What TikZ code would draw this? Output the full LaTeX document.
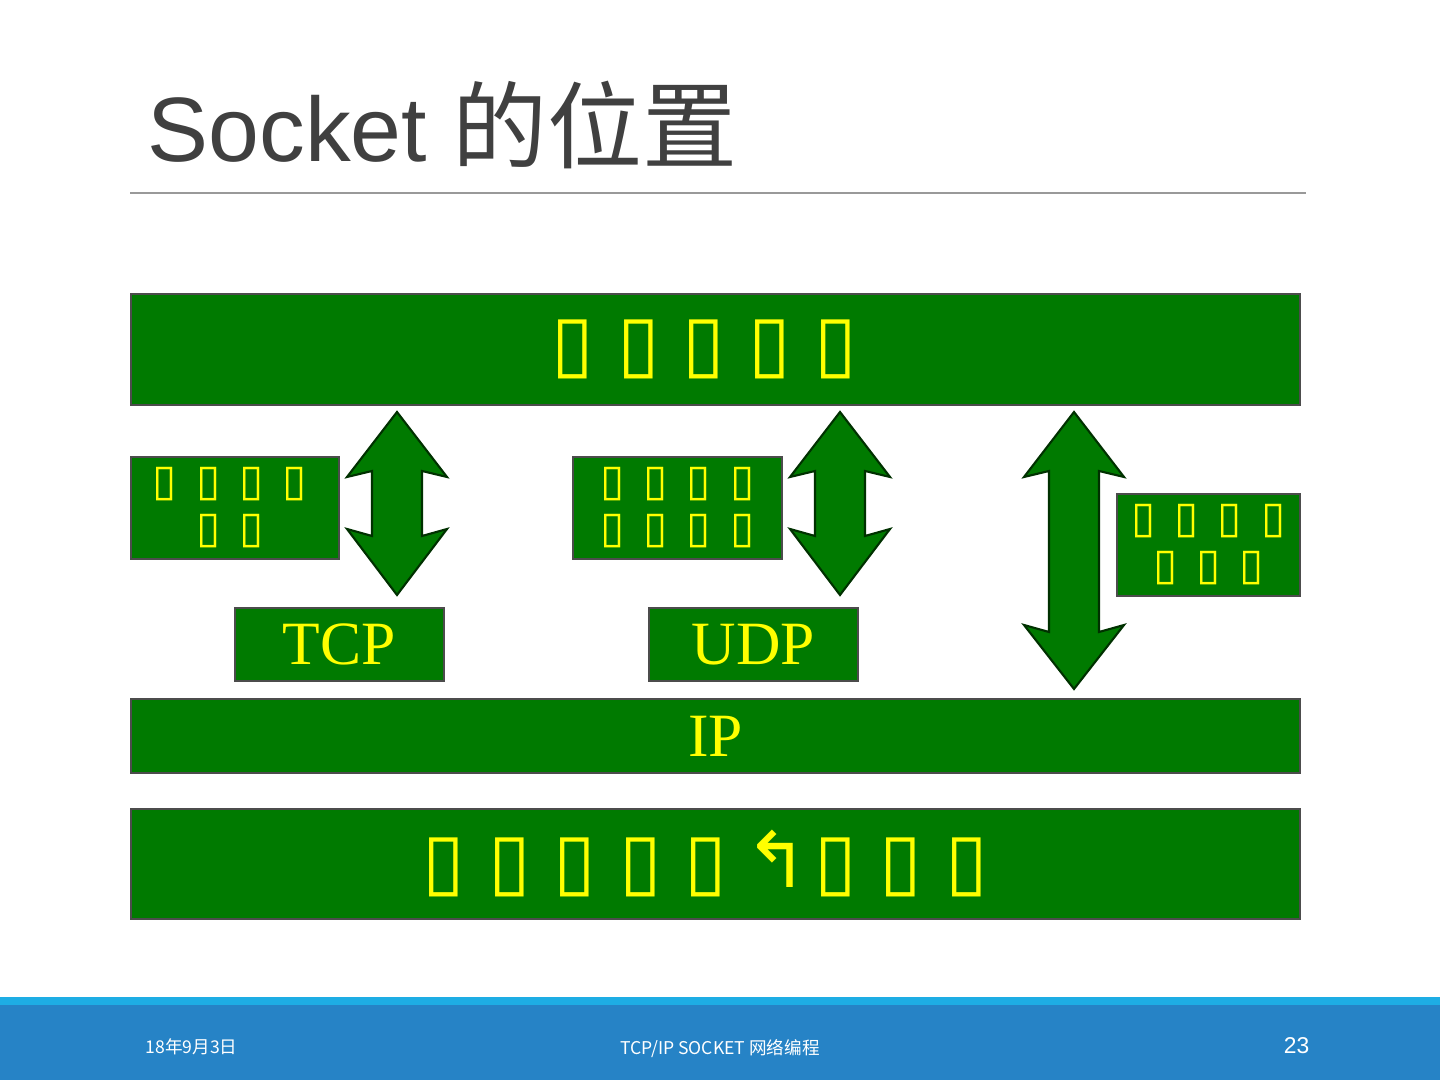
\documentclass[tikz,border=0pt]{standalone}
\usepackage{fontspec}
\setmainfont{Liberation Sans}
\newfontfamily\cjk{Noto Sans CJK SC}
\newfontfamily\symb{DejaVu Sans}
\newfontfamily\tms{Liberation Serif}
\usetikzlibrary{positioning}

\definecolor{layergreen}{RGB}{0,122,0}
\definecolor{layeryellow}{RGB}{255,255,0}
\definecolor{titlegray}{RGB}{64,64,64}
\definecolor{footblue}{RGB}{38,131,198}
\definecolor{footstrip}{RGB}{30,173,228}

\newcommand{\tofu}{▯}
\newcommand{\bg}{\hspace{0.23cm}}
\newcommand{\sg}{\hspace{0.19cm}}
\newcommand{\layerarrow}[4]{% centre x, top y, bottom y, lower head y
  \fill[layergreen, draw=black!60!layergreen, line width=0.6pt]
    (#1,#2) -- (#1+50,477) -- (#1+25,471) -- (#1+25,#4+7) -- (#1+50,#4)
    -- (#1,#3) -- (#1-50,#4) -- (#1-25,#4+7) -- (#1-25,471) -- (#1-50,477) -- cycle;}

\begin{document}
\begin{tikzpicture}[x=0.01cm, y=-0.01cm,
    layer/.style={draw=black!70, line width=0.5pt, fill=layergreen, text=layeryellow,
                  inner sep=0pt, anchor=north west},
    tofutext/.style={font=\symb\fontsize{22pt}{24pt}\selectfont, align=center},
    smalltofu/.style={font=\symb\fontsize{12.5pt}{13.4pt}\selectfont, align=center},
    prototext/.style={font=\tms\fontsize{17.5pt}{18pt}\selectfont},
    foot/.style={text=white, inner sep=0pt}]
  \useasboundingbox (0,0) rectangle (1440,1080);

  % title and rule
  \node[anchor=base west, inner sep=0pt, text=titlegray, font=\fontsize{26pt}{30pt}\selectfont]
    (title) at (147,162) {Socket {\cjk\fontsize{27pt}{30pt}\selectfont 的位置}};
  \draw[gray!80, line width=0.5pt] (130,193) -- (1306,193);

  % layers
  \node[layer, minimum width=1169*0.01cm, minimum height=111*0.01cm] (app) at (130,293) {};
  \node[tofutext, text=layeryellow, xshift=-0.11cm] at (app.center) {\tofu\bg\tofu\bg\tofu\bg\tofu\bg\tofu};

  \node[layer, minimum width=208*0.01cm, minimum height=102*0.01cm] (stream) at (130,456) {};
  \node[smalltofu, text=layeryellow, xshift=-0.05cm] at (stream.center) {\tofu\sg\tofu\sg\tofu\sg\tofu\\\tofu\sg\tofu};

  \node[layer, minimum width=209*0.01cm, minimum height=102*0.01cm] (dgram) at (572,456) {};
  \node[smalltofu, text=layeryellow] at (dgram.center) {\tofu\sg\tofu\sg\tofu\sg\tofu\\\tofu\sg\tofu\sg\tofu\sg\tofu};

  \node[layer, minimum width=183*0.01cm, minimum height=102*0.01cm] (raw) at (1116,493) {};
  \node[smalltofu, text=layeryellow] at (raw.center) {\tofu\sg\tofu\sg\tofu\sg\tofu\\\tofu\sg\tofu\sg\tofu};

  \node[layer, prototext, minimum width=209*0.01cm, minimum height=73*0.01cm] (tcp) at (234,607) {TCP};
  \node[layer, prototext, minimum width=209*0.01cm, minimum height=73*0.01cm] (udp) at (648,607) {UDP};
  \node[layer, prototext, minimum width=1169*0.01cm, minimum height=74*0.01cm] (ip) at (130,698) {IP};

  \node[layer, minimum width=1169*0.01cm, minimum height=110*0.01cm] (link) at (130,808) {};
  \node[tofutext, text=layeryellow, xshift=-0.1cm] at (link.center)
    {\tofu\bg\tofu\bg\tofu\bg\tofu\bg\tofu\hspace{0.17cm}↰\hspace{0.05cm}\tofu\bg\tofu\bg\tofu};

  % arrows between layers
  \layerarrow{397}{412}{595}{529}
  \layerarrow{840}{412}{595}{529}
  \layerarrow{1074}{412}{689}{625}

  % footer
  \fill[footstrip] (0,997) rectangle (1440,1005);
  \fill[footblue] (0,1005) rectangle (1440,1080);
  \node[foot, anchor=base west, font=\cjk\fontsize{5pt}{6pt}\selectfont] (date) at (145,1053) {18年9月3日};
  \node[foot, anchor=base, font=\cjk\fontsize{5pt}{6pt}\selectfont] (course) at (720,1054) {TCP/IP SOCKET 网络编程};
  \node[foot, anchor=base east, font=\fontsize{6.5pt}{7pt}\selectfont] (page) at (1310,1053) {23};
\end{tikzpicture}
\end{document}
